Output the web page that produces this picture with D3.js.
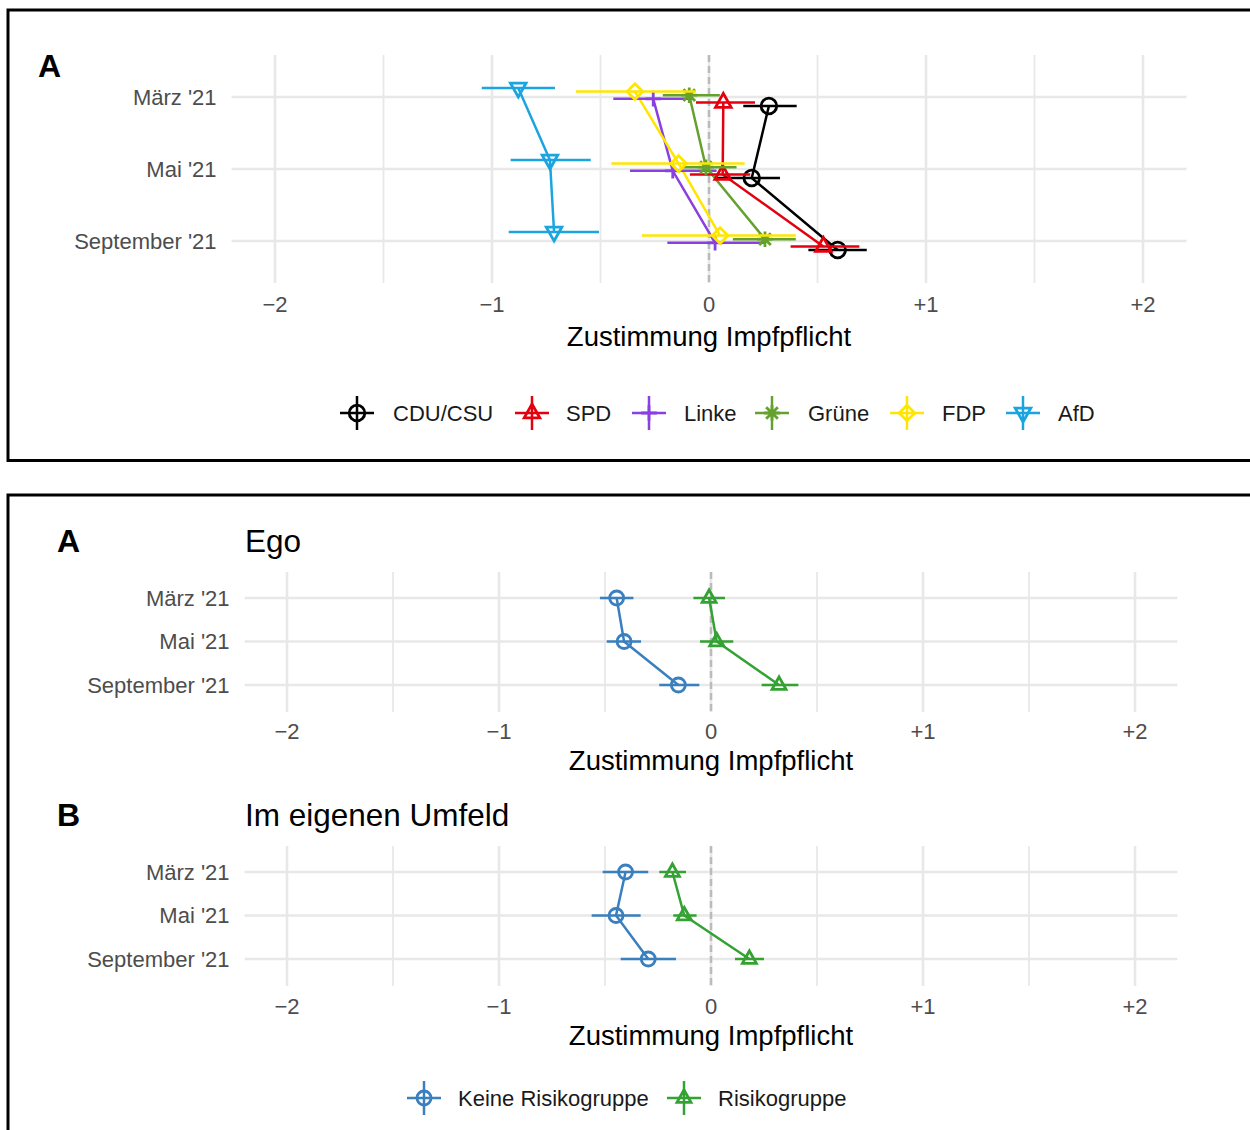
<!DOCTYPE html>
<html>
<head>
<meta charset="utf-8">
<script src="https://cdn.jsdelivr.net/npm/d3@7"></script>
<style>
  body { margin: 0; background: #fff; }
  svg text { font-family: "Liberation Sans", Arial, sans-serif; }
</style>
</head>
<body>
<svg id="chart" width="1250" height="1130"></svg>
<script>
// --- data ---
var periods = ["März '21", "Mai '21", "September '21"];
var xTicks = [-2, -1, 0, 1, 2];

var parties = ["CDU/CSU", "SPD", "Linke", "Grüne", "FDP", "AfD"];
var partyColors = ["#000000", "#E3000F", "#8A3FE0", "#64A12D", "#FFE600", "#1AA4E0"];
var partyShapes = ["circle", "triUp", "plus", "star", "diamond", "triDown"];
var partyMean = [
  [0.276, 0.197, 0.593],
  [0.066, 0.063, 0.527],
  [-0.257, -0.167, 0.028],
  [-0.091, -0.014, 0.258],
  [-0.341, -0.140, 0.051],
  [-0.879, -0.733, -0.714]
];
var partyLow = [
  [0.158, 0.028, 0.458],
  [-0.060, -0.088, 0.376],
  [-0.441, -0.364, -0.192],
  [-0.213, -0.118, 0.110],
  [-0.613, -0.450, -0.309],
  [-1.047, -0.914, -0.923]
];
var partyHigh = [
  [0.404, 0.327, 0.727],
  [0.212, 0.190, 0.693],
  [-0.080, 0.035, 0.258],
  [0.050, 0.127, 0.400],
  [-0.060, 0.164, 0.400],
  [-0.710, -0.545, -0.507]
];

var groups = ["Keine Risikogruppe", "Risikogruppe"];
var groupColors = ["#3A7FBE", "#34A233"];
var groupShapes = ["circle", "triUp"];
var egoMean = [[-0.445, -0.410, -0.154], [-0.009, 0.027, 0.321]];
var egoLow = [[-0.524, -0.492, -0.244], [-0.083, -0.052, 0.239]];
var egoHigh = [[-0.366, -0.330, -0.055], [0.066, 0.105, 0.412]];
var umfeldMean = [[-0.403, -0.448, -0.296], [-0.182, -0.126, 0.181]];
var umfeldLow = [[-0.511, -0.563, -0.426], [-0.244, -0.178, 0.113]];
var umfeldHigh = [[-0.296, -0.332, -0.165], [-0.118, -0.068, 0.250]];

var svg = d3.select("#chart");
var GRID = "#E8E8E8", TICKTXT = "#4D4D4D";

function fmt(v) {
  if (v < 0) return "\u2212" + Math.abs(v);
  if (v > 0) return "+" + v;
  return "0";
}

// marker path around (0,0)
function shapePath(type, r) {
  var h = r * 1.15;
  switch (type) {
    case "circle": return "M" + r + ",0 A" + r + "," + r + " 0 1,1 " + (-r) + ",0 A" + r + "," + r + " 0 1,1 " + r + ",0 Z";
    case "triUp": return "M0," + (-h) + " L" + r + "," + (h * 0.55) + " L" + (-r) + "," + (h * 0.55) + " Z";
    case "triDown": return "M0," + h + " L" + r + "," + (-h * 0.55) + " L" + (-r) + "," + (-h * 0.55) + " Z";
    case "plus": return "M" + (-r) + ",0 H" + r + " M0," + (-r) + " V" + r;
    case "diamond": return "M0," + (-r) + " L" + r + ",0 L0," + r + " L" + (-r) + ",0 Z";
    case "star":
      var d = r * 0.75;
      return "M" + (-r) + ",0 H" + r + " M0," + (-r) + " V" + r +
        " M" + (-d) + "," + (-d) + " L" + d + "," + d + " M" + (-d) + "," + d + " L" + d + "," + (-d);
  }
}

// one forest panel
function drawPanel(p) {
  var g = svg.append("g");
  var x = d3.scaleLinear().domain([-2.2, 2.2]).range([p.x0, p.x1]);
  var y = d3.scalePoint().domain(periods).range([p.yFirst, p.yLast]);

  // minor + major vertical grid
  var minor = [-1.5, -0.5, 0.5, 1.5];
  g.selectAll(".vminor").data(minor).enter().append("line")
    .attr("x1", d => x(d)).attr("x2", d => x(d))
    .attr("y1", p.gridTop).attr("y2", p.gridBot)
    .attr("stroke", GRID).attr("stroke-width", 1.8);
  g.selectAll(".vmajor").data(xTicks).enter().append("line")
    .attr("x1", d => x(d)).attr("x2", d => x(d))
    .attr("y1", p.gridTop).attr("y2", p.gridBot)
    .attr("stroke", GRID).attr("stroke-width", 2.6);
  g.selectAll(".hmajor").data(periods).enter().append("line")
    .attr("x1", p.x0).attr("x2", p.x1)
    .attr("y1", d => y(d)).attr("y2", d => y(d))
    .attr("stroke", GRID).attr("stroke-width", 2.6);

  // reference line at 0
  g.append("line")
    .attr("x1", x(0)).attr("x2", x(0))
    .attr("y1", p.gridTop).attr("y2", p.gridBot)
    .attr("stroke", "#BBBBBB").attr("stroke-width", 2.5)
    .attr("stroke-dasharray", "7,4");

  // y tick labels
  g.selectAll(".ylab").data(periods).enter().append("text")
    .attr("x", p.x0 - 15).attr("y", d => y(d)).attr("dy", "0.35em")
    .attr("text-anchor", "end").attr("font-size", 22).attr("fill", TICKTXT)
    .text(d => d);

  // x tick labels
  g.selectAll(".xlab").data(xTicks).enter().append("text")
    .attr("x", d => x(d)).attr("y", p.xLabY).attr("dy", "0.35em")
    .attr("text-anchor", "middle").attr("font-size", 22).attr("fill", TICKTXT)
    .text(fmt);

  g.append("text")
    .attr("x", x(0)).attr("y", p.titleY).attr("dy", "0.35em")
    .attr("text-anchor", "middle").attr("font-size", 27.5).attr("fill", "#000")
    .text("Zustimmung Impfpflicht");

  var n = p.names.length;
  var yy = function (k, i) { return y(periods[i]) + (p.dodge ? ((n - 1) / 2 - k) * p.dodge : 0); };

  // connecting lines
  var line = d3.line().x(d => x(d.v)).y(d => d.y);
  p.names.forEach(function (name, k) {
    var pts = p.mean[k].map((v, i) => ({ v: v, y: yy(k, i) }));
    g.append("path").attr("d", line(pts))
      .attr("fill", "none").attr("stroke", p.colors[k]).attr("stroke-width", 2.5);
  });
  // ranges and markers
  p.names.forEach(function (name, k) {
    p.mean[k].forEach(function (v, i) {
      g.append("line")
        .attr("x1", x(p.low[k][i])).attr("x2", x(p.high[k][i]))
        .attr("y1", yy(k, i)).attr("y2", yy(k, i))
        .attr("stroke", p.colors[k]).attr("stroke-width", 2.5);
      g.append("path")
        .attr("transform", "translate(" + x(v) + "," + yy(k, i) + ")")
        .attr("d", shapePath(p.shapes[k], p.r))
        .attr("fill", "none").attr("stroke", p.colors[k]).attr("stroke-width", 2.8);
    });
  });
  return g;
}

function drawLegend(names, colors, shapes, keyX, textX, ly, r) {
  names.forEach(function (name, k) {
    var g = svg.append("g").attr("transform", "translate(" + keyX[k] + "," + ly + ")");
    g.append("line").attr("x1", -17).attr("x2", 17).attr("y1", 0).attr("y2", 0)
      .attr("stroke", colors[k]).attr("stroke-width", 2.5);
    g.append("line").attr("x1", 0).attr("x2", 0).attr("y1", -17).attr("y2", 17)
      .attr("stroke", colors[k]).attr("stroke-width", 2.5);
    g.append("path").attr("d", shapePath(shapes[k], r))
      .attr("fill", "none").attr("stroke", colors[k]).attr("stroke-width", 2.8);
    svg.append("text").attr("x", textX[k]).attr("y", ly).attr("dy", "0.35em")
      .attr("font-size", 22).attr("fill", "#1a1a1a").text(name);
  });
}

// --- frames ---
svg.append("rect").attr("x", 8).attr("y", 10).attr("width", 1260).attr("height", 450.5)
  .attr("fill", "none").attr("stroke", "#000").attr("stroke-width", 3);
svg.append("rect").attr("x", 8).attr("y", 495).attr("width", 1260).attr("height", 700)
  .attr("fill", "none").attr("stroke", "#000").attr("stroke-width", 3);

// --- top figure ---
svg.append("text").attr("x", 38).attr("y", 66).attr("dy", "0.35em")
  .attr("font-size", 32).attr("font-weight", "bold").text("A");
drawPanel({
  x0: 231.6, x1: 1186.4, yFirst: 97, yLast: 241, gridTop: 55, gridBot: 283,
  xLabY: 304, titleY: 336, dodge: 3.6, r: 7.8,
  names: parties, colors: partyColors, shapes: partyShapes,
  mean: partyMean, low: partyLow, high: partyHigh
});
drawLegend(parties, partyColors, partyShapes,
  [357, 532, 649, 772, 907, 1023], [393, 566, 684, 808, 942, 1058], 413, 7.8);

// --- bottom figure ---
svg.append("text").attr("x", 57).attr("y", 541).attr("dy", "0.35em")
  .attr("font-size", 32).attr("font-weight", "bold").text("A");
svg.append("text").attr("x", 245).attr("y", 541).attr("dy", "0.35em")
  .attr("font-size", 31.5).attr("fill", "#000").text("Ego");
drawPanel({
  x0: 244.6, x1: 1177.4, yFirst: 598, yLast: 685, gridTop: 572, gridBot: 712,
  xLabY: 731, titleY: 760, dodge: 0, r: 7,
  names: groups, colors: groupColors, shapes: groupShapes,
  mean: egoMean, low: egoLow, high: egoHigh
});

svg.append("text").attr("x", 57).attr("y", 815).attr("dy", "0.35em")
  .attr("font-size", 32).attr("font-weight", "bold").text("B");
svg.append("text").attr("x", 245).attr("y", 815).attr("dy", "0.35em")
  .attr("font-size", 31.5).attr("fill", "#000").text("Im eigenen Umfeld");
drawPanel({
  x0: 244.6, x1: 1177.4, yFirst: 872, yLast: 959, gridTop: 846, gridBot: 986,
  xLabY: 1006, titleY: 1035, dodge: 0, r: 7,
  names: groups, colors: groupColors, shapes: groupShapes,
  mean: umfeldMean, low: umfeldLow, high: umfeldHigh
});
drawLegend(groups, groupColors, groupShapes, [424, 684], [458, 718], 1098, 7);
</script>
</body>
</html>
